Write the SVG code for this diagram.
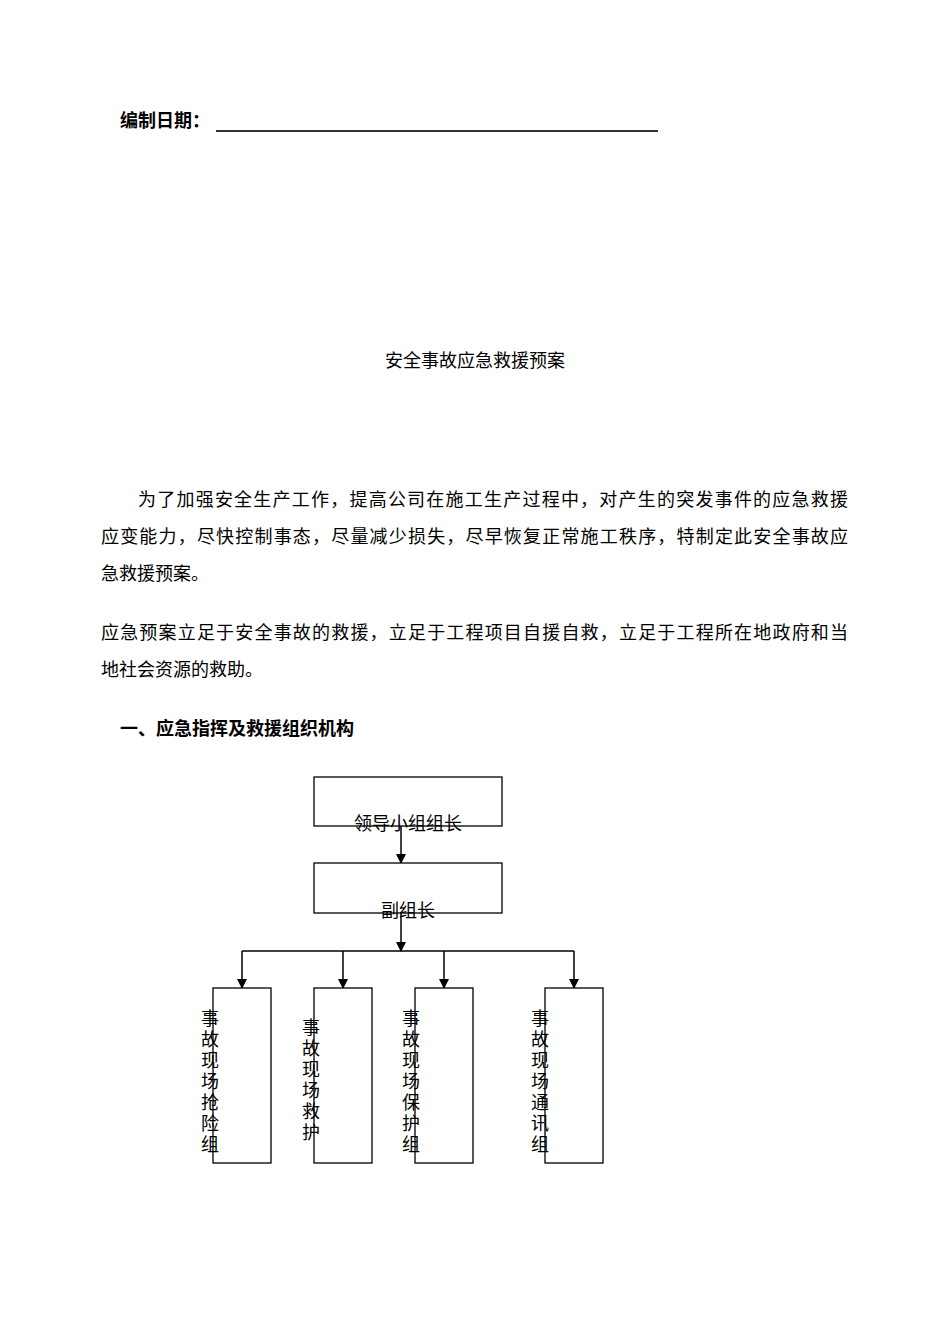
<svg xmlns="http://www.w3.org/2000/svg" width="950" height="1344" viewBox="0 0 950 1344">
<style>
text{font-family:"Noto Sans CJK SC","Liberation Serif",serif;font-size:18px;fill:#000}
.b{font-weight:bold}
.v{font-size:18px;text-anchor:middle}
rect{fill:#fff;stroke:#000;stroke-width:1.3}
.c line{stroke:#000;stroke-width:1.5;fill:none}
</style>
<defs>
<marker id="a" markerWidth="10" markerHeight="10" refX="9" refY="5" orient="auto" markerUnits="userSpaceOnUse"><path d="M0,0 L10,5 L0,10 Z" fill="#000"/></marker></defs>
<text class="b" x="120" y="127">编制日期：</text>
<line x1="216" y1="131" x2="658" y2="131" stroke="#333" stroke-width="2"/>
<text x="475" y="367" text-anchor="middle">安全事故应急救援预案</text>
<text x="138" y="506" textLength="710" lengthAdjust="spacing">为了加强安全生产工作，提高公司在施工生产过程中，对产生的突发事件的应急救援</text>
<text x="101" y="543" textLength="747" lengthAdjust="spacing">应变能力，尽快控制事态，尽量减少损失，尽早恢复正常施工秩序，特制定此安全事故应</text>
<text x="101" y="580">急救援预案。</text>
<text x="101" y="639" textLength="747" lengthAdjust="spacing">应急预案立足于安全事故的救援，立足于工程项目自援自救，立足于工程所在地政府和当</text>
<text x="101" y="676">地社会资源的救助。</text>
<text class="b" x="120" y="735">一、应急指挥及救援组织机构</text>
<g class="c">
<line x1="401" y1="826" x2="401" y2="863" marker-end="url(#a)"/>
<line x1="401" y1="913" x2="401" y2="951" marker-end="url(#a)"/>
<line x1="242" y1="951" x2="574" y2="951"/>
<line x1="242" y1="951" x2="242" y2="988" marker-end="url(#a)"/>
<line x1="343" y1="951" x2="343" y2="988" marker-end="url(#a)"/>
<line x1="444" y1="951" x2="444" y2="988" marker-end="url(#a)"/>
<line x1="574" y1="951" x2="574" y2="988" marker-end="url(#a)"/>
</g>
<g id="n1"><rect x="314" y="777" width="188" height="49"/><text x="408" y="830" text-anchor="middle">领导小组组长</text></g>
<g id="n2"><rect x="314" y="863" width="188" height="50"/><text x="408" y="917" text-anchor="middle">副组长</text></g>
<g id="n3"><rect x="213" y="988" width="58" height="175"/>
<text class="v" x="210" y="1025">事</text><text class="v" x="210" y="1046">故</text><text class="v" x="210" y="1067">现</text><text class="v" x="210" y="1088">场</text><text class="v" x="210" y="1109">抢</text><text class="v" x="210" y="1130">险</text><text class="v" x="210" y="1151">组</text></g>
<g id="n4"><rect x="314" y="988" width="58" height="175"/>
<text class="v" x="311" y="1034">事</text><text class="v" x="311" y="1055">故</text><text class="v" x="311" y="1076">现</text><text class="v" x="311" y="1097">场</text><text class="v" x="311" y="1118">救</text><text class="v" x="311" y="1139">护</text></g>
<g id="n5"><rect x="415" y="988" width="58" height="175"/>
<text class="v" x="411" y="1025">事</text><text class="v" x="411" y="1046">故</text><text class="v" x="411" y="1067">现</text><text class="v" x="411" y="1088">场</text><text class="v" x="411" y="1109">保</text><text class="v" x="411" y="1130">护</text><text class="v" x="411" y="1151">组</text></g>
<g id="n6"><rect x="545" y="988" width="58" height="175"/>
<text class="v" x="540" y="1025">事</text><text class="v" x="540" y="1046">故</text><text class="v" x="540" y="1067">现</text><text class="v" x="540" y="1088">场</text><text class="v" x="540" y="1109">通</text><text class="v" x="540" y="1130">讯</text><text class="v" x="540" y="1151">组</text></g>
</svg>
